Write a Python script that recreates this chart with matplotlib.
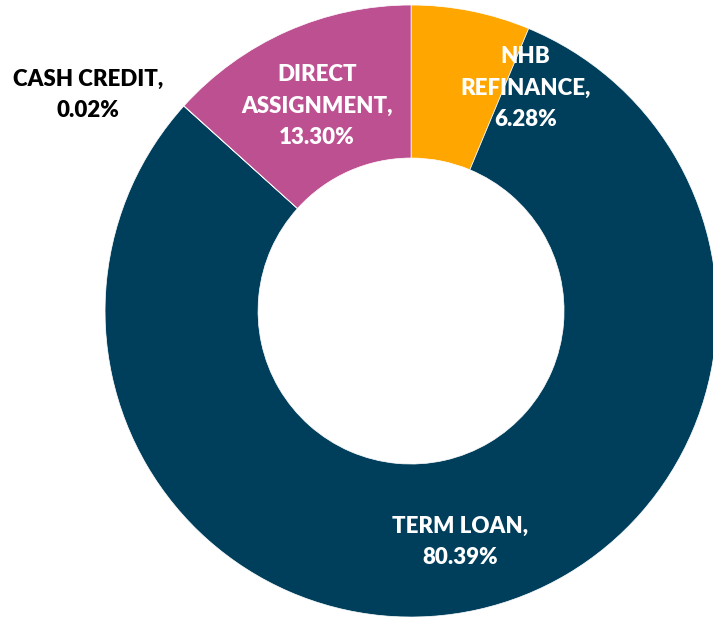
import matplotlib.pyplot as plt

categories = ["NHB\nREFINANCE", "TERM LOAN", "CASH CREDIT", "DIRECT\nASSIGNMENT"]
shares = [6.28, 80.39, 0.02, 13.30]
colors = ["#ffa600", "#003f5c", "#7a5195", "#bc5090"]

# label anchor points in data units (radius 1) and their text colour
label_xy = [(0.373, 0.729), (0.160, -0.755), (-1.056, 0.705), (-0.307, 0.670)]
label_color = ["white", "white", "black", "white"]

plt.rcParams["font.family"] = ["Lato", "DejaVu Sans"]

fig = plt.figure(figsize=(7.13, 6.2), dpi=100)
ax = fig.add_axes([0.1473, 0.0048, 0.8584, 0.9871])

ax.pie(shares, colors=colors, startangle=90, counterclock=False, radius=1.0,
       wedgeprops=dict(width=0.5, edgecolor="white", linewidth=0.5))

for name, val, (x, y), c in zip(categories, shares, label_xy, label_color):
    ax.text(x, y, f"{name},\n{val:.2f}%", ha="center", va="center",
            color=c, fontsize=16, fontweight="heavy", linespacing=1.6,
            clip_on=False)

ax.set_xlim(-1, 1)
ax.set_ylim(-1, 1)
ax.set_aspect("equal")
ax.axis("off")

fig.savefig("out.png", dpi=100)
